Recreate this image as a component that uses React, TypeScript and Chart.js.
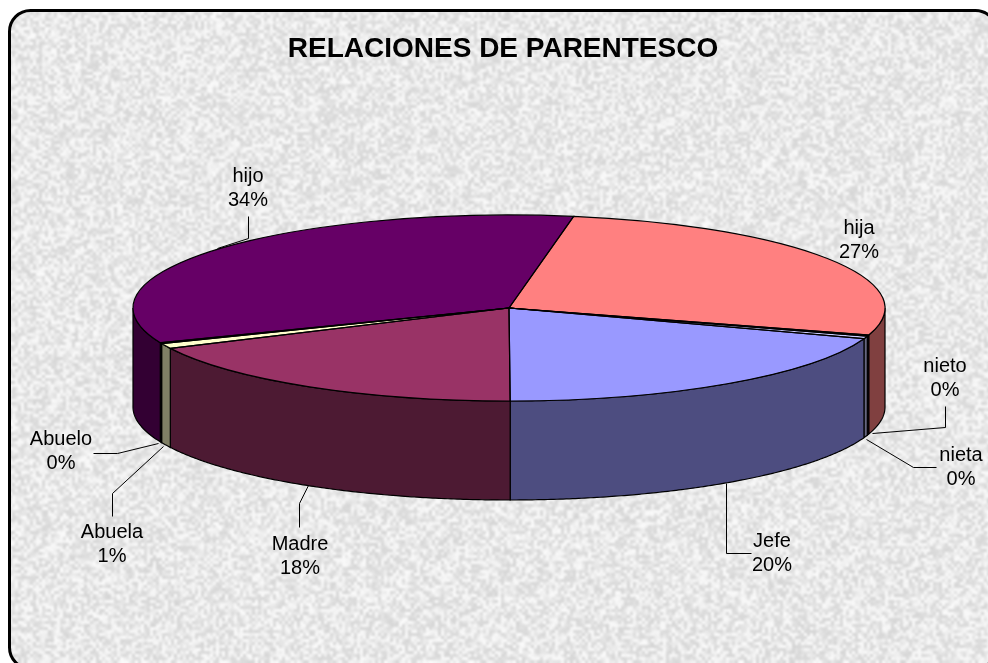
import React, { useEffect, useRef } from "react";
import { Chart, registerables } from "chart.js";

Chart.register(...registerables);

const TITLE = "RELACIONES DE PARENTESCO";
const categories = ["hija", "nieto", "nieta", "Jefe", "Madre", "Abuela", "Abuelo", "hijo"];
const shares = [26.95, 0.2, 0.45, 19.6, 17.9, 0.9, 0.15, 33.85];
const topColors = ["#FF8080", "#660066", "#CCCCFF", "#9999FF", "#993366", "#FFFFCC", "#FFFFCC", "#660066"];
const wallColors = ["#804040", "#330033", "#666680", "#4D4D80", "#4D1A33", "#808066", "#808066", "#330033"];

// Drawing geometry of the tilted pie, in canvas pixels.
const PIE = { cx: 509, cy: 308, rx: 376, ry: 93, depth: 99, rotation: 9.9 };
const FONT = "Liberation Sans, Arial, sans-serif";
const LABEL_SIZE = 20;
const LINE_GAP = 24.5;

// Label centres and leader lines, by category name.
const labelLayout: Record<string, { x: number; y: number; leader?: number[][] }> = {
  hijo: { x: 248, y: 176, leader: [[248, 216], [248, 238], [217, 248]] },
  hija: { x: 859, y: 228 },
  nieto: { x: 945, y: 366, leader: [[945, 406], [945, 427], [872, 433]] },
  nieta: { x: 961, y: 455, leader: [[936, 467], [913, 467], [866, 439]] },
  Jefe: { x: 772, y: 541, leader: [[726, 483], [726, 553], [751, 553]] },
  Madre: { x: 300, y: 544, leader: [[308, 485], [299, 503], [299, 527]] },
  Abuela: { x: 112, y: 532, leader: [[163, 446], [112, 493], [112, 516]] },
  Abuelo: { x: 61, y: 439, leader: [[158, 443], [117, 453], [93, 453]] },
};

function makeTexture(w: number, h: number) {
  const layer = (cell: number, low: number, high: number, seedStart: number, alpha: number, out: CanvasRenderingContext2D) => {
    const cw = Math.ceil(w / cell);
    const ch = Math.ceil(h / cell);
    const c = document.createElement("canvas");
    c.width = cw;
    c.height = ch;
    const cc = c.getContext("2d")!;
    const img = cc.createImageData(cw, ch);
    let s = seedStart;
    for (let i = 0; i < cw * ch; i++) {
      s = (s * 1664525 + 1013904223) >>> 0;
      const t = (s >>> 16) / 65535;
      const v = low + (high - low) * t * t * (3 - 2 * t);
      img.data[i * 4] = v;
      img.data[i * 4 + 1] = v;
      img.data[i * 4 + 2] = v;
      img.data[i * 4 + 3] = 255;
    }
    cc.putImageData(img, 0, 0);
    out.globalAlpha = alpha;
    out.imageSmoothingEnabled = true;
    out.imageSmoothingQuality = "high";
    out.drawImage(c, 0, 0, cw * cell, ch * cell);
  };
  const o = document.createElement("canvas");
  o.width = w;
  o.height = h;
  const octx = o.getContext("2d")!;
  layer(3, 212, 250, 12345, 1, octx);
  layer(9, 225, 245, 98765, 0.2, octx);
  octx.globalAlpha = 1;
  return o;
}

function roundedPath(ctx: CanvasRenderingContext2D) {
  ctx.beginPath();
  ctx.roundRect(9.5, 10.5, 987, 658, 21);
}

const panelPlugin = {
  id: "panel",
  beforeDraw(chart: any) {
    const { ctx, width, height } = chart;
    ctx.save();
    ctx.fillStyle = "#ffffff";
    ctx.fillRect(0, 0, width, height);
    roundedPath(ctx);
    ctx.save();
    ctx.clip();
    ctx.drawImage(makeTexture(width, height), 0, 0);
    ctx.restore();
    roundedPath(ctx);
    ctx.lineWidth = 3;
    ctx.strokeStyle = "#000000";
    ctx.stroke();
    ctx.restore();
  },
  afterLayout(chart: any) {
    const t = chart.titleBlock;
    t.left = 18;
    t.right = 988;
    t.top = 32;
    t.bottom = 66;
  },
};

function toScreen(arc: any, ctx: CanvasRenderingContext2D) {
  const R = arc.outerRadius;
  ctx.translate(PIE.cx, PIE.cy);
  ctx.scale(PIE.rx / R, PIE.ry / R);
  ctx.translate(-arc.x, -arc.y);
}

const pie3dPlugin = {
  id: "pie3d",
  beforeDatasetsDraw(chart: any) {
    const { ctx } = chart;
    const arcs = chart.getDatasetMeta(0).data;
    ctx.save();
    // Side wall: visible where the rim runs along the front half of the ellipse.
    arcs.forEach((arc: any, i: number) => {
      const norm = (a: number) => ((a % (2 * Math.PI)) + 2 * Math.PI) % (2 * Math.PI);
      let a0 = norm(arc.startAngle);
      let a1 = a0 + (arc.endAngle - arc.startAngle);
      const ranges: number[][] = [];
      if (a0 < Math.PI) ranges.push([a0, Math.min(a1, Math.PI)]);
      if (a1 > 2 * Math.PI) ranges.push([2 * Math.PI, Math.min(a1, 3 * Math.PI)]);
      ranges.forEach(([s, e]) => {
        const steps = Math.max(2, Math.ceil((e - s) * 120));
        ctx.beginPath();
        for (let k = 0; k <= steps; k++) {
          const a = s + ((e - s) * k) / steps;
          const x = PIE.cx + PIE.rx * Math.cos(a);
          const y = PIE.cy + PIE.ry * Math.sin(a);
          k === 0 ? ctx.moveTo(x, y) : ctx.lineTo(x, y);
        }
        for (let k = steps; k >= 0; k--) {
          const a = s + ((e - s) * k) / steps;
          ctx.lineTo(PIE.cx + PIE.rx * Math.cos(a), PIE.cy + PIE.ry * Math.sin(a) + PIE.depth);
        }
        ctx.closePath();
        ctx.fillStyle = wallColors[i];
        ctx.fill();
        ctx.lineWidth = 1.2;
        ctx.strokeStyle = "#000000";
        ctx.stroke();
      });
    });
    if (arcs.length) toScreen(arcs[0], ctx);
  },
  afterDatasetsDraw(chart: any) {
    const { ctx } = chart;
    const arcs = chart.getDatasetMeta(0).data;
    ctx.restore();

    // Outlines of the top face, stroked at screen scale.
    arcs.forEach((arc: any) => {
      ctx.save();
      toScreen(arc, ctx);
      ctx.beginPath();
      ctx.moveTo(arc.x, arc.y);
      ctx.arc(arc.x, arc.y, arc.outerRadius, arc.startAngle, arc.endAngle);
      ctx.closePath();
      ctx.restore();
      ctx.save();
      ctx.lineWidth = 1.2;
      ctx.strokeStyle = "#000000";
      ctx.stroke();
      ctx.restore();
    });

    // Data labels with leader lines.
    const total = shares.reduce((a, b) => a + b, 0);
    categories.forEach((name, i) => {
      const l = labelLayout[name];
      if (l.leader) {
        ctx.beginPath();
        l.leader.forEach(([x, y], k) => (k === 0 ? ctx.moveTo(x + 0.5, y + 0.5) : ctx.lineTo(x + 0.5, y + 0.5)));
        ctx.lineWidth = 1;
        ctx.strokeStyle = "#000000";
        ctx.stroke();
      }
      ctx.fillStyle = "#000000";
      ctx.font = `${LABEL_SIZE}px ${FONT}`;
      ctx.textAlign = "center";
      ctx.textBaseline = "middle";
      ctx.fillText(name, l.x, l.y);
      ctx.fillText(`${Math.round((shares[i] / total) * 100)}%`, l.x, l.y + LINE_GAP);
    });
  },
};

export default function App() {
  const ref = useRef<HTMLCanvasElement>(null);
  useEffect(() => {
    document.body.style.margin = "0";
    const chart = new Chart(ref.current!, {
      type: "pie",
      data: {
        labels: categories,
        datasets: [
          {
            data: shares,
            backgroundColor: topColors,
            borderWidth: 0,
            clip: false,
          } as any,
        ],
      },
      options: {
        responsive: false,
        animation: false,
        rotation: PIE.rotation,
        layout: { padding: { top: 70, bottom: 40, left: 40, right: 40 } },
        plugins: {
          legend: { display: false },
          tooltip: { enabled: false },
          title: {
            display: true,
            text: TITLE,
            color: "#000000",
            padding: 0,
            font: { family: FONT, size: 28, weight: "bold", lineHeight: 1.2 },
          },
        },
      },
      plugins: [panelPlugin, pie3dPlugin],
    });
    return () => chart.destroy();
  }, []);
  return (
    <div style={{ position: "absolute", left: 0, top: 0, width: 988, height: 663, overflow: "hidden" }}>
      <canvas ref={ref} width={988} height={663} style={{ display: "block" }} />
    </div>
  );
}
